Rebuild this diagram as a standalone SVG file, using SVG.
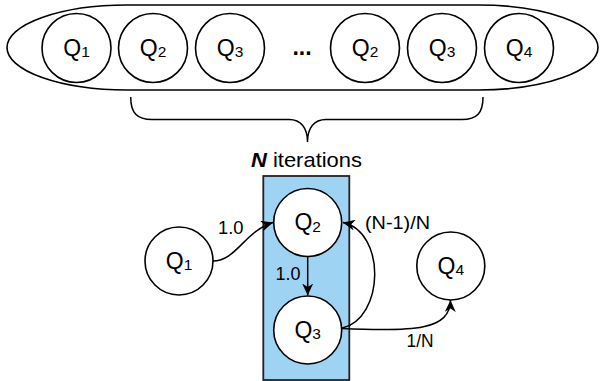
<svg xmlns="http://www.w3.org/2000/svg" width="602" height="381" viewBox="0 0 602 381">
<defs>
<style>
.nd{fill:#fff;stroke:#000;stroke-width:1.6}
.q{font-family:"Liberation Sans",Arial,sans-serif;font-size:23px;fill:#000}
.sub{font-size:15.5px}
.lbl{font-family:"Liberation Sans",Arial,sans-serif;font-size:18px;fill:#000}
.title{font-family:"Liberation Sans",Arial,sans-serif;font-size:21px;fill:#000}
.edge{fill:none;stroke:#000;stroke-width:1.5}
</style>
<marker id="arr" markerUnits="userSpaceOnUse" markerWidth="13" markerHeight="11" viewBox="0 0 13 11" refX="12" refY="5.5" orient="auto">
<path d="M0,0 L12,5.5 L0,11 L3.5,5.5 Z" fill="#000"/>
</marker>
</defs>
<rect width="602" height="381" fill="#fff"/>

<g id="sequence">
<path d="M127,5 H478 A120,42.5 0 0 1 478,90 H127 A120,42.5 0 0 1 127,5 Z" fill="#fff" stroke="#000" stroke-width="1.6"/>
</g>
<g id="seq-q1"><circle class="nd" cx="76.5" cy="48" r="34.5"/><text class="q" x="76.5" y="55.5" text-anchor="middle">Q<tspan class="sub" dy="1.5">1</tspan></text></g>
<g id="seq-q2a"><circle class="nd" cx="153" cy="48" r="34.5"/><text class="q" x="153" y="55.5" text-anchor="middle">Q<tspan class="sub" dy="1.5">2</tspan></text></g>
<g id="seq-q3a"><circle class="nd" cx="230" cy="48" r="34.5"/><text class="q" x="230" y="55.5" text-anchor="middle">Q<tspan class="sub" dy="1.5">3</tspan></text></g>
<g id="seq-dots"><text class="q" x="302" y="54.5" text-anchor="middle" font-weight="bold">...</text></g>
<g id="seq-q2b"><circle class="nd" cx="365" cy="48" r="34.5"/><text class="q" x="365" y="55.5" text-anchor="middle">Q<tspan class="sub" dy="1.5">2</tspan></text></g>
<g id="seq-q3b"><circle class="nd" cx="442" cy="48" r="34.5"/><text class="q" x="442" y="55.5" text-anchor="middle">Q<tspan class="sub" dy="1.5">3</tspan></text></g>
<g id="seq-q4"><circle class="nd" cx="519" cy="48" r="34.5"/><text class="q" x="519" y="55.5" text-anchor="middle">Q<tspan class="sub" dy="1.5">4</tspan></text></g>

<g id="brace">
<path d="M130.7,97 C130.7,113 137,119.5 152,119.5 L289,119.5 C301,119.5 307.5,128 307.5,142 C307.5,128 314,119.5 326,119.5 L462,119.5 C477,119.5 483,113 483,97" fill="none" stroke="#000" stroke-width="1.5"/>
<text class="title" x="251" y="166.5" textLength="111" lengthAdjust="spacingAndGlyphs"><tspan font-weight="bold" font-style="italic">N</tspan> iterations</text>
</g>

<g id="loop-box"><rect x="263.3" y="176" width="86" height="204" fill="#9ED3F3" stroke="#222" stroke-width="1.8"/></g>

<g id="q1"><circle class="nd" cx="179" cy="261" r="34"/><text class="q" x="179" y="268.5" text-anchor="middle">Q<tspan class="sub" dy="1.5">1</tspan></text></g>
<g id="q2"><circle class="nd" cx="307.7" cy="222.5" r="34"/><text class="q" x="307.7" y="230" text-anchor="middle">Q<tspan class="sub" dy="1.5">2</tspan></text></g>
<g id="q3"><circle class="nd" cx="307.7" cy="330" r="34"/><text class="q" x="307.7" y="337.5" text-anchor="middle">Q<tspan class="sub" dy="1.5">3</tspan></text></g>
<g id="q4"><circle class="nd" cx="450.8" cy="266" r="34"/><text class="q" x="450.8" y="273.5" text-anchor="middle">Q<tspan class="sub" dy="1.5">4</tspan></text></g>

<g id="connectors">
<path class="edge" d="M213,261 C236,261 245,231 273,222.5" marker-end="url(#arr)"/>
<path class="edge" d="M307.7,256.5 L307.7,295.5" marker-end="url(#arr)"/>
<path class="edge" d="M341.7,328.3 C385,318 386,232 343,222.5" marker-end="url(#arr)"/>
<path class="edge" d="M341.7,328.5 C415,332 450,330 450.5,300" marker-end="url(#arr)"/>
<text class="lbl" x="218" y="234" textLength="25.5" lengthAdjust="spacingAndGlyphs">1.0</text>
<text class="lbl" x="275.5" y="279.5" textLength="25" lengthAdjust="spacingAndGlyphs">1.0</text>
<text class="lbl" x="365" y="228.5" style="font-size:19px" textLength="65" lengthAdjust="spacingAndGlyphs">(N-1)/N</text>
<text class="lbl" x="406.5" y="347" textLength="27" lengthAdjust="spacingAndGlyphs">1/N</text>
</g>
</svg>
